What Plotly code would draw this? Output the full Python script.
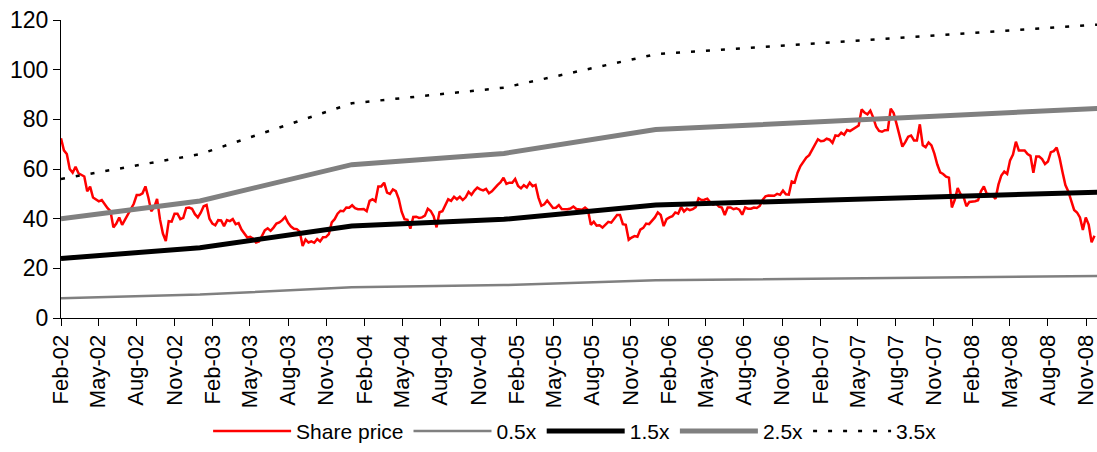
import pandas as pd
import plotly.graph_objects as go

# Weekly share price closes, starting the first Friday of February 2002
price_start = "2002-02-01"
share_price = [
    72.4, 67.5, 66.0, 60.0, 58.5, 60.9, 58.3, 57.6, 57.0, 51.0,
    52.9, 48.5, 47.8, 47.0, 47.5, 45.8, 44.2, 43.0, 36.5, 38.0,
    40.5, 37.5, 39.5, 41.8, 44.0, 46.0, 49.5, 49.5, 50.2, 53.0,
    48.5, 43.0, 44.5, 48.0, 39.7, 34.0, 31.0, 39.0, 38.8, 42.0,
    42.0, 39.8, 40.3, 44.3, 44.5, 44.0, 41.8, 40.5, 42.4, 45.0,
    45.5, 40.0, 38.0, 37.3, 39.4, 39.3, 37.0, 39.4, 39.0, 39.8,
    37.8, 38.2, 35.6, 33.9, 32.4, 32.7, 31.9, 30.4, 30.8, 33.0,
    35.3, 36.1, 35.1, 36.4, 38.0, 38.5, 39.4, 40.7, 38.3, 36.8,
    35.9, 35.8, 34.8, 29.0, 31.6, 30.4, 30.9, 30.3, 31.8, 30.8,
    32.5, 32.6, 33.8, 38.5, 39.8, 42.0, 43.2, 43.0, 44.5, 44.4,
    45.4, 44.2, 43.8, 43.8, 43.9, 43.0, 47.2, 47.8, 47.0, 53.0,
    53.0, 54.5, 50.5, 50.0, 51.8, 51.1, 48.0, 42.8, 39.8, 39.5,
    36.0, 40.7, 40.8, 40.3, 40.5, 41.2, 44.0, 43.1, 41.0, 36.5,
    42.6, 43.0, 45.3, 47.8, 47.2, 48.8, 47.8, 48.8, 47.5, 48.6,
    50.8, 49.6, 51.3, 52.5, 51.8, 51.4, 52.0, 50.2, 51.0, 52.4,
    53.6, 54.7, 56.5, 54.0, 54.5, 54.5, 56.0, 53.2, 52.2, 53.5,
    52.6, 54.5, 53.1, 53.6, 48.5, 45.2, 45.8, 47.3, 45.7, 44.3,
    44.4, 45.5, 43.9, 43.7, 43.8, 44.1, 44.9, 43.9, 43.9, 43.6,
    44.5, 43.5, 37.5, 38.8, 37.2, 37.3, 36.4, 37.5, 38.7, 38.4,
    39.8, 41.5, 41.5, 37.8, 37.5, 31.5, 32.4, 33.0, 32.7, 35.6,
    36.3, 38.0, 37.8, 39.0, 40.5, 42.5, 41.5, 37.0, 39.8, 40.5,
    41.0, 42.5, 42.0, 44.7, 42.9, 44.0, 43.4, 43.8, 44.6, 48.2,
    47.5, 47.6, 48.0, 46.6, 45.7, 46.1, 44.8, 44.5, 41.5, 44.5,
    44.5, 43.8, 44.2, 43.6, 41.6, 44.5, 44.0, 44.0, 44.5, 44.3,
    45.1, 47.5, 49.0, 49.3, 49.1, 49.2, 50.0, 49.6, 51.3, 49.8,
    49.7, 55.0, 54.5, 58.5, 61.2, 63.0, 64.6, 65.6, 67.8, 69.6,
    72.0, 71.2, 71.4, 72.2, 71.8, 70.5, 73.5, 73.3, 74.6, 73.8,
    75.7, 75.3, 76.0, 77.0, 77.5, 84.0, 82.7, 82.0, 83.5, 80.7,
    77.0, 75.3, 75.0, 75.6, 75.7, 84.3, 82.5, 78.2, 73.5, 69.0,
    70.8, 73.0, 73.5, 71.5, 71.5, 78.0, 69.6, 68.8, 70.7, 69.5,
    66.2, 61.8, 58.6, 58.0, 56.9, 56.5, 44.5, 47.6, 52.3, 49.8,
    48.9, 45.0, 46.7, 46.8, 47.0, 47.4, 51.0, 53.0, 50.0, 49.8,
    49.3, 48.0, 53.7, 57.4, 59.0, 58.0, 63.5, 65.8, 71.0, 67.5,
    67.5, 67.5, 66.0, 65.3, 58.5, 65.0, 65.0, 64.0, 62.0, 63.0,
    66.8, 67.2, 68.6, 64.5, 58.8, 53.5, 51.0, 47.0, 43.5, 42.5,
    40.5, 35.5, 40.5, 37.6, 30.5, 33.1,
]
price_dates = pd.date_range(price_start, periods=len(share_price), freq="7D")

# Book value per share at reporting points (linear in between)
bv_dates = ["2002-02-01", "2003-01-01", "2004-01-01", "2005-01-01",
            "2006-01-01", "2007-01-01", "2008-01-01", "2008-11-28"]
book_value = [16.0, 18.85, 24.7, 26.5, 30.35, 31.5, 32.7, 33.75]

# Price-to-book bands
band_multiples = [0.5, 1.5, 2.5, 3.5]
band_labels = ["0.5x", "1.5x", "2.5x", "3.5x"]
band_styles = [
    dict(color="#808080", width=2.5),
    dict(color="#000000", width=5),
    dict(color="#808080", width=5),
    dict(color="#000000", width=2.5, dash="4px,11px"),
]

fig = go.Figure()
fig.add_trace(go.Scatter(
    x=price_dates, y=share_price, mode="lines", name="Share price",
    line=dict(color="#FF0000", width=2.5),
))
for mult, label, style in zip(band_multiples, band_labels, band_styles):
    fig.add_trace(go.Scatter(
        x=bv_dates, y=[mult * b for b in book_value], mode="lines",
        name=label, line=style,
    ))

font_family = "Liberation Sans, Arial, sans-serif"
fig.update_layout(
    width=1097, height=452,
    margin=dict(l=61, r=0, t=20, b=134),
    paper_bgcolor="white", plot_bgcolor="white",
    font=dict(family=font_family, color="black", size=21),
    showlegend=True,
    legend=dict(
        orientation="h", x=0.142, xanchor="left", y=-0.449, yanchor="bottom",
        font=dict(size=21), itemwidth=78, bgcolor="rgba(0,0,0,0)",
        tracegroupgap=0, borderwidth=0,
    ),
    xaxis=dict(
        range=["2002-02-01", "2008-11-27"],
        tick0="2002-02-01", dtick="M3", tickformat="%b-%y",
        tickangle=-90, tickfont=dict(size=22), ticklabeloverflow="allow",
        ticks="outside", ticklen=7, tickcolor="black", tickwidth=1,
        showline=True, linecolor="black", linewidth=1,
        showgrid=False, zeroline=False,
    ),
    yaxis=dict(
        range=[0, 120], tickvals=[0, 20, 40, 60, 80, 100, 120],
        tickfont=dict(size=23),
        ticks="outside", ticklen=7, tickcolor="black", tickwidth=1,
        showline=True, linecolor="black", linewidth=1,
        showgrid=False, zeroline=False,
    ),
)

fig.write_html("out.html")
